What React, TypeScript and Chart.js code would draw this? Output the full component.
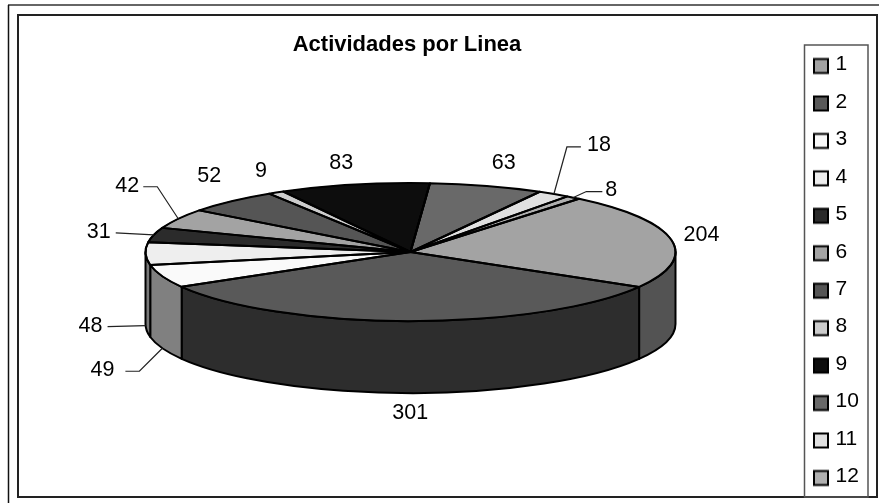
import { useEffect, useRef } from "react";
import { Chart, registerables, Plugin } from "chart.js";

Chart.register(...registerables);

const categories = ["1", "2", "3", "4", "5", "6", "7", "8", "9", "10", "11", "12"];
const actividades = [204, 301, 49, 48, 31, 42, 52, 9, 83, 63, 18, 8];
const topColors = ["#a3a3a3", "#595959", "#fafafa", "#eeeeee", "#2b2b2b", "#a3a3a3", "#555555", "#cccccc", "#0d0d0d", "#696969", "#e0e0e0", "#b0b0b0"];

// label placement relative to the slice's rim point (layout only)
const labelOffsets = [[30, -6], [0, 91], [-60, 93], [-55, 71], [-55, -4], [-51, -34], [-22, -26], [-15, -22], [-13, -22], [17, -24], [45, -50], [38, -8]];
// leader line: [label-side start dx, elbow dx, dy] relative to the label centre
const leaders: (number[] | null)[] = [null, null, [23, 37, 1], [17, 17, 1], [17, 17, 1], [16, 30, 1], null, null, null, null, [-18, -32, 2], [-9, -25, 1]];

const CX = 410.5, CY = 252, RX = 265, RY = 69, DEPTH = 72;
const FONT = "'Liberation Sans', Arial, sans-serif";

function darken(hex: string) {
  const v = Math.round(parseInt(hex.slice(1, 3), 16) * 0.51);
  return `rgb(${v},${v},${v})`;
}

function swatch(color: string) {
  const c = document.createElement("canvas");
  c.width = 18;
  c.height = 24;
  const g = c.getContext("2d")!;
  g.fillStyle = color;
  g.fillRect(1, 6.5, 14, 14);
  g.strokeStyle = "#000";
  g.lineWidth = 2;
  g.strokeRect(1, 6.5, 14, 14);
  return c;
}

const pie3d: Plugin<"pie"> = {
  id: "pie3d",
  afterLayout(chart) {
    const t = (chart as any).titleBlock;
    t.left = 0; t.right = 814; t.top = 32; t.bottom = 62;
    const l = (chart as any).legend;
    const pad = l.options.labels.padding;
    l.left = 819 - pad; l.right = 868; l.top = 54 - pad; l.bottom = 640;
  },
  beforeDraw(chart) {
    const c = chart.ctx;
    c.save();
    c.fillStyle = "#fff";
    c.fillRect(0, 0, chart.width, chart.height);
    c.strokeStyle = "#666";
    c.lineWidth = 2;
    c.beginPath(); c.moveTo(8, 5); c.lineTo(879, 5); c.stroke();
    c.strokeStyle = "#111";
    c.lineWidth = 1.5;
    c.beginPath(); c.moveTo(8.5, 5); c.lineTo(8.5, 503); c.stroke();
    c.strokeStyle = "#222";
    c.lineWidth = 2;
    c.strokeRect(18, 15, 859, 482);
    c.strokeStyle = "#555";
    c.lineWidth = 1.5;
    c.strokeRect(804.5, 45, 63.5, 452);
    c.restore();
  },
  beforeDatasetsDraw(chart) {
    const c = chart.ctx;
    const arcs = chart.getDatasetMeta(0).data as any[];
    c.save();
    c.lineWidth = 2;
    c.strokeStyle = "#000";
    c.lineJoin = "round";
    arcs.forEach((a, i) => {
      for (let k = -1; k <= 2; k++) {
        const lo = Math.max(a.startAngle, 2 * Math.PI * k);
        const hi = Math.min(a.endAngle, Math.PI + 2 * Math.PI * k);
        if (hi > lo) {
          c.beginPath();
          c.ellipse(CX, CY, RX, RY, 0, lo, hi);
          c.ellipse(CX, CY + DEPTH, RX, RY, 0, hi, lo, true);
          c.closePath();
          c.fillStyle = darken(topColors[i]);
          c.fill();
          c.stroke();
        }
      }
    });
    c.restore();
    const e = arcs[0];
    c.save();
    c.translate(CX, CY);
    c.scale(1, RY / RX);
    c.translate(-e.x, -e.y);
  },
  afterDatasetsDraw(chart) {
    const c = chart.ctx;
    c.restore();
    const arcs = chart.getDatasetMeta(0).data as any[];
    c.save();
    c.lineWidth = 2;
    c.strokeStyle = "#000";
    c.lineJoin = "round";
    arcs.forEach((a) => {
      c.beginPath();
      c.moveTo(CX, CY);
      c.ellipse(CX, CY, RX, RY, 0, a.startAngle, a.endAngle);
      c.closePath();
      c.stroke();
    });
    c.restore();
  },
  afterDraw(chart) {
    const c = chart.ctx;
    const arcs = chart.getDatasetMeta(0).data as any[];
    const values = chart.data.datasets[0].data as number[];
    c.save();
    c.font = `21.5px ${FONT}`;
    c.fillStyle = "#000";
    c.textAlign = "center";
    c.textBaseline = "middle";
    arcs.forEach((a, i) => {
      const mid = (a.startAngle + a.endAngle) / 2;
      const ax = CX + RX * Math.cos(mid);
      const ay = CY + RY * Math.sin(mid);
      const lx = ax + labelOffsets[i][0];
      const ly = ay + labelOffsets[i][1] + 1;
      c.fillText(String(values[i]), lx, ly);
      const lead = leaders[i];
      if (lead) {
        c.strokeStyle = "#222";
        c.lineWidth = 1.2;
        c.beginPath();
        c.moveTo(lx + lead[0], ly + lead[2]);
        c.lineTo(lx + lead[1], ly + lead[2]);
        c.lineTo(ax, ay + (Math.sin(mid) > 0 ? DEPTH : 0));
        c.stroke();
      }
    });
    c.restore();
  },
};

export default function App() {
  const ref = useRef<HTMLCanvasElement>(null);
  useEffect(() => {
    const chart = new Chart(ref.current!, {
      type: "pie",
      data: {
        labels: categories,
        datasets: [{
          data: actividades,
          backgroundColor: topColors,
          borderColor: "#000",
          borderWidth: 2,
          radius: RX,
          clip: false,
        } as any],
      },
      options: {
        responsive: false,
        animation: false,
        rotation: 39.5,
        events: [],
        plugins: {
          title: {
            display: true,
            text: "Actividades por Linea",
            color: "#000",
            font: { family: FONT, size: 22, weight: "bold" },
            padding: 0,
          },
          tooltip: { enabled: false },
          legend: {
            display: true,
            position: "right",
            align: "start",
            labels: {
              color: "#000",
              font: { family: FONT, size: 21 },
              padding: 16.45,
              boxHeight: 16,
              usePointStyle: true,
              pointStyleWidth: 6,
              generateLabels(ch: Chart) {
                const base = (Chart as any).overrides.pie.plugins.legend.labels.generateLabels(ch);
                return base.map((it: any, i: number) => ({ ...it, pointStyle: swatch(topColors[i]) }));
              },
            },
          },
        },
      },
      plugins: [pie3d],
    } as any);
    return () => chart.destroy();
  }, []);
  return (
    <canvas
      ref={ref}
      width={879}
      height={503}
      style={{ position: "absolute", left: 0, top: 0, display: "block" }}
    />
  );
}
